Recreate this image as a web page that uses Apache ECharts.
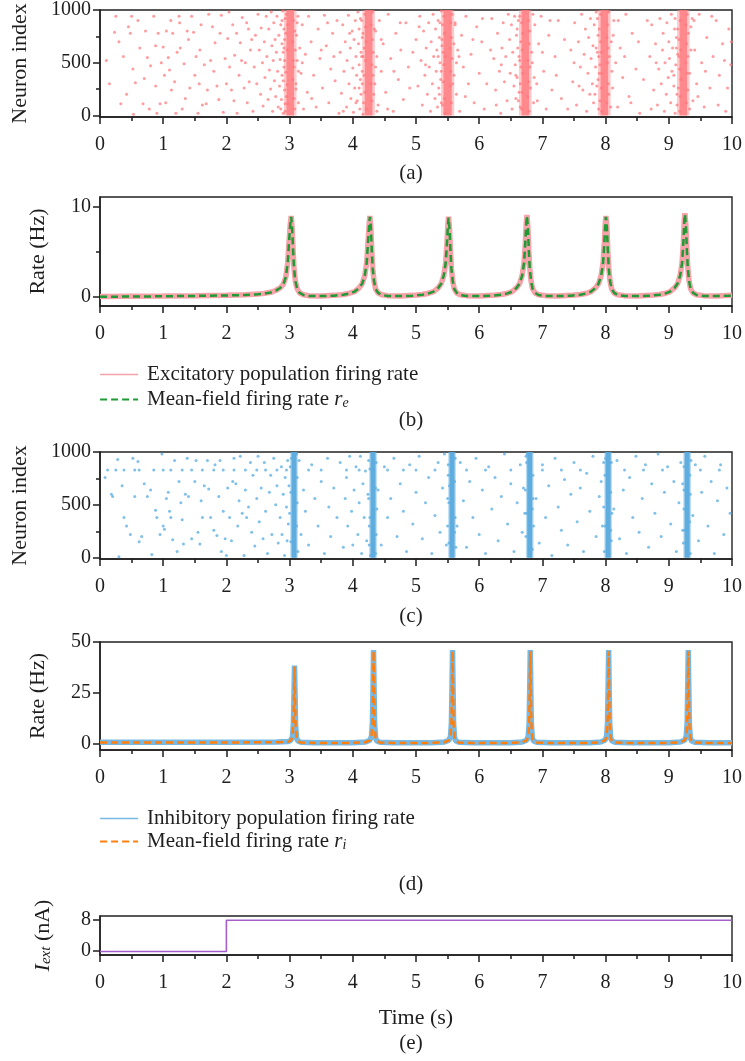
<!DOCTYPE html>
<html>
<head>
<meta charset="utf-8">
<script src="https://cdn.jsdelivr.net/npm/echarts@6/dist/echarts.min.js"></script>
<style>
html,body{margin:0;padding:0;background:#fff;}
#chart{width:745px;height:1061px;}
</style>
</head>
<body>
<div id="chart"></div>
<script>
// ---------------- DATA ----------------
// (a) excitatory raster: burst cores and scattered spikes [time s, neuron index]
const burstE_t = [3.01, 4.25, 5.50, 6.73, 7.98, 9.23];
const burstE_w = [0.12, 0.12, 0.13, 0.12, 0.12, 0.12];
const burstE_wOuter = [0.20, 0.20, 0.21, 0.20, 0.20, 0.20];
const spikesE = [
[0.25,940],[0.23,790],[0.37,560],[0.33,110],[0.45,840],[0.48,780],[0.52,440],[0.53,10],[0.56,310],[0.50,940],
[0.63,640],[0.68,110],[0.72,800],[0.75,550],[0.80,470],[0.85,940],[0.88,280],[0.90,20],[0.92,780],[0.95,110],
[1.00,650],[1.02,380],[1.05,800],[1.08,550],[1.10,430],[1.13,240],[1.15,780],[1.20,20],[1.25,940],[1.27,640],
[1.30,60],[1.33,490],[1.38,800],[1.42,260],[1.45,940],[1.48,790],[1.52,560],[1.55,20],[1.58,620],[1.62,100],
[1.65,480],[1.68,110],[1.72,960],[1.75,520],[1.78,840],[1.82,690],[1.85,280],[1.88,150],[1.92,950],[1.95,30],
[1.98,540],[2.02,730],[2.05,460],[2.08,240],[2.10,860],[2.13,570],[2.17,20],[2.20,380],[2.22,690],[2.25,930],
[2.28,260],[2.30,500],[2.33,120],[2.35,820],[2.38,620],
[0.15,300],[0.30,700],[0.42,200],[0.60,900],[0.70,350],[0.78,60],[0.97,500],[1.04,120],[1.12,900],[1.18,320],
[1.22,600],[1.35,160],[1.40,720],[1.50,380],[1.60,860],[1.70,240],[1.80,420],[1.90,780],[2.00,300],[2.04,980],
[2.12,140],[2.16,780],[2.24,520],[2.32,880],[2.36,320],[2.40,720],[0.10,520],[0.88,660],[1.26,880],[1.57,300],
[2.42,40],[2.44,460],[2.46,760],[2.48,300],[2.50,960],[2.52,620],[2.54,200],[2.55,830],[2.57,500],[2.58,90],
[2.60,700],[2.61,360],[2.63,940],[2.64,560],[2.66,150],[2.67,820],[2.68,430],[2.70,250],[2.71,980],[2.72,660],
[2.73,40],[2.74,520],[2.75,880],[2.76,330],[2.77,720],[2.78,180],[2.79,600],[2.80,940],[2.81,420],[2.82,80],
[2.83,760],[2.84,280],[2.85,530],[2.86,860],[2.87,150],[2.88,680],[2.88,380],[2.89,990],[2.90,20],[2.90,600],
[2.91,460],[2.91,820],[2.92,240],[2.92,720],[2.93,110],[2.93,920],
[3.10,300],[3.11,760],[3.12,520],[3.13,940],[3.14,120],[3.16,640],[3.18,400],[3.20,860],[3.22,60],[3.25,580],
[3.28,220],[3.30,940],[3.34,700],[3.38,380],[3.42,80],[3.45,820],[3.48,540],[3.52,260],[3.55,950],[3.58,660],
[3.62,120],[3.65,440],[3.68,780],[3.72,330],[3.75,900],[3.78,20],
[3.20,500],[3.35,160],[3.50,620],[3.60,880],[3.70,560],[3.85,40],[3.95,780],[4.05,120],
[3.80,600],[3.82,210],[3.84,860],[3.86,420],[3.88,700],[3.90,80],[3.91,520],[3.93,950],[3.94,300],[3.96,640],
[3.97,160],[3.99,800],[4.00,450],[4.01,30],[4.02,720],[4.03,260],[4.04,900],[4.05,560],[4.06,380],[4.07,140],
[4.08,980],[4.09,680],[4.10,480],[4.10,820],[4.11,60],[4.12,340],[4.13,600],[4.13,200],[4.14,900],[4.15,740],
[4.15,420],[4.16,10],[4.16,560],
[4.35,300],[4.36,800],[4.38,560],[4.40,100],[4.42,900],[4.45,420],[4.48,680],[4.52,220],[4.56,960],[4.60,540],
[4.64,40],[4.68,780],[4.72,340],[4.76,620],[4.80,150],[4.84,880],[4.88,460],
[4.45,720],[4.55,60],[4.65,420],[4.75,880],[4.90,260],[4.95,600],[5.05,840],[5.15,480],
[5.00,720],[5.03,280],[5.06,940],[5.08,520],[5.10,100],[5.12,800],[5.14,380],[5.16,640],[5.18,200],[5.20,880],
[5.21,460],[5.23,40],[5.24,700],[5.26,300],[5.27,960],[5.28,560],[5.30,160],[5.31,820],[5.32,420],[5.33,620],
[5.34,80],[5.35,900],[5.36,260],[5.37,740],[5.38,500],[5.39,340],[5.40,990],[5.40,120],[5.41,660],[5.42,860],
[5.60,380],[5.62,880],[5.64,200],[5.66,620],[5.69,40],[5.72,760],[5.75,460],[5.79,940],[5.83,300],[5.87,580],
[5.92,120],[5.96,840],[6.00,400],[6.04,700],[6.08,60],
[5.68,560],[5.78,180],[5.90,720],[6.05,920],[6.12,300],[6.18,620],[6.27,100],[6.35,480],
[6.20,920],[6.23,540],[6.26,240],[6.29,780],[6.32,420],[6.34,20],[6.36,640],[6.38,880],[6.40,320],[6.42,560],
[6.44,140],[6.46,960],[6.48,720],[6.49,400],[6.51,860],[6.52,60],[6.53,600],[6.55,280],[6.56,940],[6.57,480],
[6.58,160],[6.59,760],[6.60,360],[6.61,640],[6.62,900],[6.63,220],[6.64,520],[6.65,80],
[6.84,500],[6.86,120],[6.88,860],[6.91,300],[6.94,680],[6.98,940],[7.02,420],[7.06,60],[7.10,760],[7.15,240],
[7.20,560],[7.25,900],[7.30,160],
[6.92,140],[7.00,600],[7.12,900],[7.22,380],[7.35,720],[7.40,60],[7.50,500],[7.58,280],
[7.45,620],[7.48,320],[7.51,880],[7.54,100],[7.57,700],[7.60,460],[7.62,960],[7.64,240],[7.66,580],[7.68,820],
[7.70,40],[7.72,400],[7.73,740],[7.75,200],[7.76,920],[7.77,540],[7.79,300],[7.80,660],[7.81,120],[7.82,860],
[7.84,460],[7.85,980],[7.86,280],[7.87,600],[7.88,760],[7.89,60],[7.90,400],
[8.09,700],[8.11,260],[8.13,900],[8.16,500],[8.19,80],[8.23,640],[8.27,360],[8.32,960],[8.37,180],[8.42,780],
[8.48,440],[8.54,20],
[8.20,900],[8.30,560],[8.40,120],[8.52,700],[8.60,340],[8.66,900],[8.72,60],[8.80,500],
[8.70,560],[8.73,860],[8.76,240],[8.79,680],[8.82,100],[8.84,440],[8.86,920],[8.88,300],[8.90,620],[8.91,780],
[8.93,40],[8.94,500],[8.96,200],[8.97,880],[8.99,360],[9.00,700],[9.01,540],[9.03,120],[9.04,960],[9.05,420],
[9.06,640],[9.08,280],[9.09,820],[9.10,20],[9.11,480],[9.12,740],[9.13,200],[9.14,580],
[9.33,400],[9.35,840],[9.38,140],[9.41,620],[9.44,300],[9.48,960],[9.52,500],[9.56,80],[9.60,740],[9.65,260],
[9.70,560],[9.75,900],[9.80,380],[9.85,680],[9.90,40],[9.95,820],[9.98,480],
[9.40,900],[9.46,180],[9.58,420],[9.68,940],[9.78,100],[9.88,520],[9.93,260],[9.99,700]
];
// spikes at the ragged edges of each excitatory burst
const spikesE_burst = [
[2.86,60],[2.88,900],[2.90,330],[2.91,640],[2.92,520],[2.93,40],[2.94,780],[2.94,410],[2.95,180],[2.95,960],
[2.96,620],[2.96,290],[2.97,860],[2.97,110],[3.05,700],[3.05,340],[3.06,520],[3.06,900],[3.07,160],[3.07,460],
[3.08,800],[3.08,60],[3.09,620],[3.10,250],[3.12,880],[3.14,420],
[4.10,260],[4.12,920],[4.14,560],[4.15,300],[4.16,780],[4.17,120],[4.18,640],[4.18,380],[4.19,960],[4.19,220],
[4.20,520],[4.20,840],[4.21,60],[4.21,700],[4.29,300],[4.29,860],[4.30,480],[4.30,140],[4.31,720],[4.31,980],
[4.32,380],[4.32,600],[4.33,200],[4.34,820],[4.36,460],[4.38,40],
[5.35,560],[5.37,200],[5.38,880],[5.40,420],[5.41,720],[5.42,100],[5.43,600],[5.43,320],[5.44,940],[5.44,480],
[5.45,780],[5.45,160],[5.46,560],[5.46,20],[5.54,640],[5.54,280],[5.55,880],[5.55,420],[5.56,120],[5.56,740],
[5.57,540],[5.57,960],[5.58,300],[5.60,680],[5.62,860],[5.64,500],
[6.58,380],[6.60,820],[6.62,140],[6.63,560],[6.64,940],[6.65,300],[6.66,700],[6.66,460],[6.67,60],[6.67,880],
[6.68,220],[6.68,620],[6.69,780],[6.69,400],[6.77,520],[6.77,180],[6.78,900],[6.78,320],[6.79,680],[6.79,40],
[6.80,460],[6.80,800],[6.81,260],[6.83,600],[6.85,960],[6.87,360],
[7.83,200],[7.85,640],[7.87,920],[7.88,340],[7.89,560],[7.90,820],[7.91,140],[7.91,480],[7.92,700],[7.92,960],
[7.93,260],[7.93,600],[7.94,40],[7.94,400],[8.02,740],[8.02,120],[8.03,500],[8.03,860],[8.04,300],[8.04,640],
[8.05,980],[8.05,200],[8.06,560],[8.08,80],[8.10,420],[8.12,760],
[9.08,380],[9.10,920],[9.12,640],[9.13,100],[9.14,820],[9.15,260],[9.16,560],[9.16,720],[9.17,40],[9.17,440],
[9.18,900],[9.18,180],[9.19,620],[9.19,340],[9.27,500],[9.27,860],[9.28,120],[9.28,680],[9.29,400],[9.29,960],
[9.30,240],[9.30,560],[9.31,780],[9.33,60],[9.35,620],[9.37,920]
];

// (b) excitatory firing rates [time s, Hz]
const rateE_pop = [
[0,0.05],[0.5,0.08],[1.0,0.1],[1.5,0.14],[2.0,0.2],[2.3,0.25],[2.5,0.32],[2.6,0.4],[2.7,0.52],[2.78,0.72],
[2.85,1.0],[2.9,1.4],[2.94,2.2],[2.97,3.8],[2.99,6.0],[3.01,8.0],[3.025,9.0],[3.04,7.6],[3.055,5.2],[3.07,3.2],
[3.09,1.8],[3.12,0.9],[3.16,0.45],[3.22,0.25],[3.3,0.15],[3.5,0.12],[3.7,0.18],[3.85,0.28],[3.95,0.42],[4.03,0.6],
[4.1,1.0],[4.15,1.5],[4.19,2.4],[4.22,3.8],[4.24,6.0],[4.26,8.2],[4.27,9.0],[4.285,7.8],[4.3,5.2],[4.315,3.2],
[4.335,1.8],[4.36,0.9],[4.4,0.45],[4.46,0.25],[4.55,0.15],[4.75,0.12],[4.95,0.18],[5.1,0.28],[5.2,0.42],[5.28,0.6],
[5.35,1.0],[5.4,1.5],[5.44,2.4],[5.47,3.8],[5.49,6.0],[5.505,8.0],[5.515,8.9],[5.53,7.6],[5.545,5.2],[5.56,3.2],
[5.58,1.8],[5.605,0.9],[5.645,0.45],[5.7,0.25],[5.8,0.15],[6.0,0.12],[6.2,0.18],[6.35,0.28],[6.45,0.42],[6.52,0.6],
[6.59,1.0],[6.64,1.5],[6.68,2.4],[6.71,3.8],[6.73,6.0],[6.745,8.2],[6.755,9.1],[6.77,7.8],[6.785,5.2],[6.8,3.2],
[6.82,1.8],[6.845,0.9],[6.885,0.45],[6.94,0.25],[7.05,0.15],[7.25,0.12],[7.45,0.18],[7.6,0.28],[7.7,0.42],[7.77,0.6],
[7.84,1.0],[7.89,1.5],[7.93,2.4],[7.96,3.8],[7.98,6.0],[7.995,8.2],[8.005,9.0],[8.02,7.8],[8.035,5.2],[8.05,3.2],
[8.07,1.8],[8.095,0.9],[8.135,0.45],[8.19,0.25],[8.3,0.15],[8.5,0.12],[8.7,0.18],[8.85,0.28],[8.95,0.42],[9.02,0.6],
[9.09,1.0],[9.14,1.5],[9.18,2.4],[9.21,3.8],[9.23,6.0],[9.245,8.4],[9.255,9.3],[9.27,8.0],[9.285,5.4],[9.3,3.3],
[9.32,1.8],[9.345,0.9],[9.385,0.45],[9.44,0.25],[9.55,0.15],[9.75,0.12],[10,0.2]
];
const rateE_mf = [
[0,0.02],[0.5,0.05],[1.0,0.08],[1.5,0.12],[2.0,0.17],[2.3,0.22],[2.5,0.3],[2.6,0.38],[2.7,0.5],[2.78,0.7],
[2.85,1.0],[2.9,1.4],[2.94,2.2],[2.97,3.8],[2.99,6.0],[3.01,8.0],[3.025,8.9],[3.04,7.6],[3.055,5.2],[3.07,3.2],
[3.09,1.8],[3.12,0.9],[3.16,0.45],[3.22,0.22],[3.3,0.12],[3.5,0.1],[3.7,0.15],[3.85,0.25],[3.95,0.4],[4.03,0.6],
[4.1,1.0],[4.15,1.5],[4.19,2.4],[4.22,3.8],[4.24,6.0],[4.26,8.2],[4.27,8.9],[4.285,7.8],[4.3,5.2],[4.315,3.2],
[4.335,1.8],[4.36,0.9],[4.4,0.45],[4.46,0.22],[4.55,0.12],[4.75,0.1],[4.95,0.15],[5.1,0.25],[5.2,0.4],[5.28,0.6],
[5.35,1.0],[5.4,1.5],[5.44,2.4],[5.47,3.8],[5.49,6.0],[5.505,8.0],[5.515,8.8],[5.53,7.6],[5.545,5.2],[5.56,3.2],
[5.58,1.8],[5.605,0.9],[5.645,0.45],[5.7,0.22],[5.8,0.12],[6.0,0.1],[6.2,0.15],[6.35,0.25],[6.45,0.4],[6.52,0.6],
[6.59,1.0],[6.64,1.5],[6.68,2.4],[6.71,3.8],[6.73,6.0],[6.745,8.2],[6.755,9.0],[6.77,7.8],[6.785,5.2],[6.8,3.2],
[6.82,1.8],[6.845,0.9],[6.885,0.45],[6.94,0.22],[7.05,0.12],[7.25,0.1],[7.45,0.15],[7.6,0.25],[7.7,0.4],[7.77,0.6],
[7.84,1.0],[7.89,1.5],[7.93,2.4],[7.96,3.8],[7.98,6.0],[7.995,8.2],[8.005,8.9],[8.02,7.8],[8.035,5.2],[8.05,3.2],
[8.07,1.8],[8.095,0.9],[8.135,0.45],[8.19,0.22],[8.3,0.12],[8.5,0.1],[8.7,0.15],[8.85,0.25],[8.95,0.4],[9.02,0.6],
[9.09,1.0],[9.14,1.5],[9.18,2.4],[9.21,3.8],[9.23,6.0],[9.245,8.4],[9.255,9.2],[9.27,8.0],[9.285,5.4],[9.3,3.3],
[9.32,1.8],[9.345,0.9],[9.385,0.45],[9.44,0.22],[9.55,0.12],[9.75,0.1],[10,0.15]
];

// (c) inhibitory raster
const burstI_t = [3.07, 4.32, 5.57, 6.80, 8.04, 9.29];
const burstI_w = [0.08, 0.08, 0.08, 0.08, 0.08, 0.08];
const burstI_wOuter = [0.12, 0.12, 0.12, 0.12, 0.12, 0.12];
const spikesI = [
[0.12,830],[0.25,830],[0.38,830],[0.55,830],[0.62,830],[0.85,830],[1.00,830],[1.12,830],[1.30,830],[1.45,830],
[1.62,830],[1.80,830],[1.95,830],[2.12,830],[2.30,830],[2.48,830],[2.62,830],[2.80,830],[2.95,830],[3.30,830],
[3.50,830],[3.90,830],[4.10,830],[4.55,830],[4.80,830],[5.00,830],[5.30,830],[5.80,830],[6.10,830],[6.50,830],
[7.00,830],[7.30,830],[7.60,830],[8.30,830],[8.60,830],[8.90,830],[9.50,830],[9.80,830],
[0.08,760],[0.18,600],[0.20,580],[0.28,930],[0.30,10],[0.35,680],[0.38,380],[0.42,300],[0.48,220],[0.52,940],
[0.55,580],[0.60,910],[0.62,150],[0.66,200],[0.70,700],[0.75,580],[0.80,640],[0.82,30],[0.88,450],[0.90,380],
[0.95,220],[0.98,980],[1.00,300],[1.02,270],[1.05,560],[1.08,620],[1.10,440],[1.12,380],[1.15,170],[1.18,920],
[1.22,60],[1.25,720],[1.28,520],[1.30,360],[1.32,130],[1.35,600],[1.38,940],[1.40,580],[1.45,180],[1.50,720],
[1.52,920],[1.55,240],[1.58,130],[1.60,540],[1.62,380],[1.65,680],[1.70,920],[1.72,650],[1.75,380],[1.80,260],
[1.82,880],[1.85,210],[1.88,580],[1.90,920],[1.92,60],[1.95,440],[1.98,180],[2.00,20],[2.02,660],[2.05,380],
[2.08,160],[2.10,720],[2.12,940],[2.15,700],[2.18,300],[2.20,540],[2.22,960],[2.25,420],[2.28,20],[2.30,640],
[2.32,380],[2.35,480],[2.38,900],[2.40,240],[2.42,780],[2.45,110],[2.48,560],[2.50,960],[2.52,340],[2.55,660],
[2.58,180],[2.60,900],[2.62,440],[2.65,40],[2.68,620],[2.70,780],[2.72,220],[2.75,940],[2.78,500],[2.80,680],
[2.82,140],[2.85,380],[2.87,860],[2.88,220],[2.90,600],[2.92,20],[2.93,760],[2.95,480],[2.96,160],[2.97,920],
[2.98,320],[2.99,680],
[3.15,920],[3.18,220],[3.22,640],[3.25,440],[3.30,120],[3.35,880],[3.40,560],[3.45,300],[3.50,720],[3.55,40],
[3.60,940],[3.62,480],[3.65,200],[3.70,660],[3.75,380],[3.80,900],[3.85,100],[3.88,560],[3.90,760],[3.92,300],
[3.95,960],[3.98,440],[4.00,120],[4.02,640],[4.05,860],[4.08,220],[4.10,520],[4.12,960],[4.14,40],[4.16,700],
[4.18,380],[4.20,820],[4.22,160],[4.24,600],[4.25,920],[4.26,300],
[4.40,640],[4.45,120],[4.50,860],[4.55,380],[4.60,560],[4.65,940],[4.70,200],[4.75,700],[4.80,440],[4.85,60],
[4.90,880],[4.95,320],[5.00,620],[5.05,960],[5.10,180],[5.15,520],[5.20,760],[5.25,40],[5.30,400],[5.35,900],
[5.38,240],[5.42,660],[5.45,980],[5.48,120],[5.50,560],[5.51,780],
[5.65,300],[5.70,900],[5.75,540],[5.80,100],[5.85,720],[5.90,380],[5.95,940],[6.00,220],[6.05,640],[6.10,40],
[6.15,860],[6.20,460],[6.25,760],[6.30,160],[6.35,580],[6.40,980],[6.45,320],[6.50,700],[6.55,60],[6.60,520],
[6.65,880],[6.68,240],[6.70,660],[6.72,420],[6.74,960],
[6.90,560],[6.95,140],[7.00,880],[7.05,380],[7.10,680],[7.15,20],[7.20,940],[7.25,480],[7.30,260],[7.35,740],
[7.40,120],[7.45,600],[7.50,900],[7.55,340],[7.60,660],[7.65,60],[7.70,800],[7.75,440],[7.80,960],[7.85,200],
[7.90,580],[7.93,720],[7.95,300],[7.97,900],
[8.13,460],[8.18,920],[8.22,180],[8.28,640],[8.33,40],[8.38,760],[8.43,380],[8.48,960],[8.53,240],[8.58,560],
[8.63,880],[8.68,100],[8.73,700],[8.78,420],[8.83,980],[8.88,200],[8.93,620],[8.98,860],[9.03,320],[9.08,720],
[9.12,60],[9.16,520],[9.19,900],[9.22,260],[9.24,640],
[9.38,400],[9.42,880],[9.47,160],[9.52,620],[9.57,960],[9.62,300],[9.67,720],[9.72,40],[9.77,540],[9.82,880],
[9.87,220],[9.92,660],[9.97,420]
];
const spikesI_burst = [
[3.00,420],[3.01,860],[3.02,150],[3.02,620],[3.11,300],[3.12,760],[3.12,520],[3.13,60],[3.03,940],[3.11,980],
[4.25,560],[4.26,120],[4.27,840],[4.27,380],[4.36,660],[4.37,220],[4.37,900],[4.38,460],[4.28,20],[4.36,40],
[5.50,300],[5.51,880],[5.52,140],[5.52,520],[5.61,720],[5.62,380],[5.62,940],[5.63,100],[5.53,680],[5.61,240],
[6.73,640],[6.74,200],[6.75,900],[6.75,420],[6.84,80],[6.85,560],[6.85,780],[6.86,300],[6.76,980],[6.84,460],
[7.97,480],[7.98,60],[7.99,780],[7.99,300],[8.08,620],[8.09,160],[8.09,900],[8.10,420],[8.00,940],[8.08,260],
[9.22,700],[9.23,140],[9.24,460],[9.24,860],[9.33,340],[9.34,600],[9.34,40],[9.35,920],[9.25,260],[9.33,780]
];

// (d) inhibitory firing rates [time s, Hz]
const rateI_pop = [
[0,0.8],[1,0.8],[2,0.8],[2.8,0.9],[2.98,1.2],[3.02,1.8],[3.045,3.5],[3.06,10],[3.07,25],[3.078,38.5],
[3.086,25],[3.095,9],[3.11,3],[3.13,1.4],[3.18,0.8],[3.4,0.5],[4.0,0.6],[4.2,0.9],[4.27,1.8],[4.295,3.5],
[4.31,10],[4.32,28],[4.328,46],[4.336,28],[4.345,10],[4.36,3],[4.38,1.4],[4.43,0.8],[4.65,0.5],[5.25,0.6],
[5.45,0.9],[5.52,1.8],[5.545,3.5],[5.56,10],[5.57,28],[5.578,46],[5.586,28],[5.595,10],[5.61,3],[5.63,1.4],
[5.68,0.8],[5.9,0.5],[6.5,0.6],[6.68,0.9],[6.75,1.8],[6.775,3.5],[6.79,10],[6.80,28],[6.808,46],[6.816,28],
[6.825,10],[6.84,3],[6.86,1.4],[6.91,0.8],[7.13,0.5],[7.75,0.6],[7.92,0.9],[7.99,1.8],[8.015,3.5],[8.03,10],
[8.04,28],[8.048,46],[8.056,28],[8.065,10],[8.08,3],[8.1,1.4],[8.15,0.8],[8.37,0.5],[9.0,0.6],[9.18,0.9],
[9.25,1.8],[9.275,3.5],[9.29,10],[9.30,28],[9.308,46],[9.316,28],[9.325,10],[9.34,3],[9.36,1.4],[9.41,0.8],
[9.63,0.5],[10,0.5]
];
const rateI_mf = [
[0,0.7],[1,0.7],[2,0.7],[2.8,0.8],[2.98,1.1],[3.02,1.7],[3.045,3.4],[3.06,10],[3.07,25],[3.078,38],
[3.086,25],[3.095,9],[3.11,3],[3.13,1.3],[3.18,0.7],[3.4,0.4],[4.0,0.5],[4.2,0.8],[4.27,1.7],[4.295,3.4],
[4.31,10],[4.32,28],[4.328,45.5],[4.336,28],[4.345,10],[4.36,3],[4.38,1.3],[4.43,0.7],[4.65,0.4],[5.25,0.5],
[5.45,0.8],[5.52,1.7],[5.545,3.4],[5.56,10],[5.57,28],[5.578,45.5],[5.586,28],[5.595,10],[5.61,3],[5.63,1.3],
[5.68,0.7],[5.9,0.4],[6.5,0.5],[6.68,0.8],[6.75,1.7],[6.775,3.4],[6.79,10],[6.80,28],[6.808,45.5],[6.816,28],
[6.825,10],[6.84,3],[6.86,1.3],[6.91,0.7],[7.13,0.4],[7.75,0.5],[7.92,0.8],[7.99,1.7],[8.015,3.4],[8.03,10],
[8.04,28],[8.048,45.5],[8.056,28],[8.065,10],[8.08,3],[8.1,1.3],[8.15,0.7],[8.37,0.4],[9.0,0.5],[9.18,0.8],
[9.25,1.7],[9.275,3.4],[9.29,10],[9.30,28],[9.308,45.5],[9.316,28],[9.325,10],[9.34,3],[9.36,1.3],[9.41,0.7],
[9.63,0.4],[10,0.4]
];

// (e) external current [time s, nA]
const iExt = [[0,-0.3],[2,-0.3],[2,7.8],[10,7.8]];

// tick values
const yTicksA = [0,500,1000], yMinorA = [250,750];
const yTicksB = [0,10], yMinorB = [5];
const yTicksC = [0,500,1000], yMinorC = [250,750];
const yTicksD = [0,25,50];
const yTicksE = [0,8];

// ---------------- CHART ----------------
const F = '"Liberation Serif","DejaVu Serif",serif';
const INK = '#1e1e1e';
const chart = echarts.init(document.getElementById('chart'), null, {renderer:'canvas'});

const grids = [
  {left:100, width:633, top:9,   height:108},
  {left:100, width:633, top:197, height:109},
  {left:100, width:633, top:452, height:107},
  {left:100, width:633, top:642, height:108},
  {left:100, width:633, top:916, height:39}
].map(g => Object.assign(g, {show:true, borderColor:'#222', borderWidth:1.4, backgroundColor:'transparent', containLabel:false}));

const numFmt = v => String(v);

function xAx(i, extra) {
  return Object.assign({
    type:'value', gridIndex:i, min:0, max:10, interval:1,
    axisLine:{show:true, onZero:false, lineStyle:{color:INK, width:1.5}},
    axisTick:{show:true, length:7, lineStyle:{color:INK, width:1.5}},
    minorTick:{show:true, splitNumber:2, length:4, lineStyle:{color:INK, width:1.5}},
    splitLine:{show:false}, minorSplitLine:{show:false},
    axisLabel:{fontFamily:F, fontSize:20, color:INK, margin:18, formatter:numFmt}
  }, extra || {});
}
function yAx(i, min, max, ticks, name, gap, extra) {
  return Object.assign({
    type:'value', gridIndex:i, min:min, max:max, position:'left',
    axisLine:{show:true, onZero:false, lineStyle:{color:INK, width:1.5}},
    axisTick:{show:true, length:7, lineStyle:{color:INK, width:1.5}, customValues:ticks},
    splitLine:{show:false},
    axisLabel:{fontFamily:F, fontSize:20, color:INK, margin:9, customValues:ticks, formatter:numFmt},
    name:name, nameLocation:'middle', nameGap:gap, nameRotate:90,
    nameTextStyle:{fontFamily:F, fontSize:22, color:INK}
  }, extra || {});
}
function yMinor(i, min, max, ticks) {
  return {
    type:'value', gridIndex:i, min:min, max:max, position:'left',
    axisLine:{show:false}, splitLine:{show:false},
    axisTick:{show:true, length:4, lineStyle:{color:INK, width:1.5}, customValues:ticks},
    axisLabel:{show:false, customValues:ticks}
  };
}

const xAxes = [xAx(0), xAx(1), xAx(2), xAx(3),
  xAx(4, {name:'Time (s)', nameLocation:'middle', nameGap:52, nameTextStyle:{fontFamily:F, fontSize:22, color:INK}})];
const yAxes = [
  yAx(0, -15, 1000, yTicksA, 'Neuron index', 69),
  yMinor(0, -15, 1000, yMinorA),
  yAx(1, -1, 11.1, yTicksB, 'Rate (Hz)', 51),
  yMinor(1, -1, 11.1, yMinorB),
  yAx(2, -12, 1000, yTicksC, 'Neuron index', 69),
  yMinor(2, -12, 1000, yMinorC),
  yAx(3, -3, 50, yTicksD, 'Rate (Hz)', 51),
  yAx(4, -1.2, 8.9, yTicksE, '{it|I}{sub|ext} (nA)', 46, {
    nameTextStyle:{fontFamily:F, fontSize:22, color:INK, rich:{
      it:{fontFamily:F, fontSize:22, fontStyle:'italic', color:INK, lineHeight:22},
      sub:{fontFamily:F, fontSize:15, fontStyle:'italic', color:INK, lineHeight:6, verticalAlign:'bottom'}
    }}
  })
];

function bandRender(params, api) {
  const c = api.value(0), w = api.value(1), lo = api.value(2), hi = api.value(3);
  const p0 = api.coord([c - w / 2, hi]);
  const p1 = api.coord([c + w / 2, lo]);
  return {type:'rect', shape:{x:p0[0], y:p0[1], width:p1[0]-p0[0], height:p1[1]-p0[1]}, style:api.style()};
}
const bandsE = burstE_t.map((t, i) => [t, burstE_w[i], 0, 1000]);
const bandsEOuter = burstE_t.map((t, i) => [t, burstE_wOuter[i], 0, 1000]);
const bandsI = burstI_t.map((t, i) => [t, burstI_w[i], 0, 1000]);
const bandsIOuter = burstI_t.map((t, i) => [t, burstI_wOuter[i], 0, 1000]);

const nameE1 = 'Excitatory population firing rate', nameE2 = 'Mean-field firing rate r_e';
const nameI1 = 'Inhibitory population firing rate', nameI2 = 'Mean-field firing rate r_i';

const dotE = {color:'#ff767c', opacity:0.72};
const dotI = {color:'#5caee3', opacity:0.78};

const series = [
  {type:'scatter', xAxisIndex:0, yAxisIndex:0, data:spikesE, symbolSize:3, silent:true, itemStyle:dotE},
  {type:'custom', xAxisIndex:0, yAxisIndex:0, renderItem:bandRender, data:bandsEOuter, silent:true,
   itemStyle:{color:'#ff8a8e', opacity:0.45}, encode:{x:0, y:2}},
  {type:'custom', xAxisIndex:0, yAxisIndex:0, renderItem:bandRender, data:bandsE, silent:true,
   itemStyle:{color:'#ff787d', opacity:0.8}, encode:{x:0, y:2}},
  {type:'scatter', xAxisIndex:0, yAxisIndex:0, data:spikesE_burst, symbolSize:3, silent:true, itemStyle:dotE},

  {type:'line', name:nameE1, xAxisIndex:1, yAxisIndex:2, data:rateE_pop, showSymbol:false, symbol:'none', silent:true,
   lineStyle:{color:'#f5a2a8', width:5.5}, itemStyle:{color:'#f5a2a8'}},
  {type:'line', name:nameE2, xAxisIndex:1, yAxisIndex:2, data:rateE_mf, showSymbol:false, symbol:'none', silent:true,
   lineStyle:{color:'#1f9a35', width:2.5, type:[7,4]}, itemStyle:{color:'#1f9a35'}},

  {type:'scatter', xAxisIndex:2, yAxisIndex:4, data:spikesI, symbolSize:3, silent:true, itemStyle:dotI},
  {type:'custom', xAxisIndex:2, yAxisIndex:4, renderItem:bandRender, data:bandsIOuter, silent:true,
   itemStyle:{color:'#6db6e6', opacity:0.5}, encode:{x:0, y:2}},
  {type:'custom', xAxisIndex:2, yAxisIndex:4, renderItem:bandRender, data:bandsI, silent:true,
   itemStyle:{color:'#55a6dc', opacity:0.9}, encode:{x:0, y:2}},
  {type:'scatter', xAxisIndex:2, yAxisIndex:4, data:spikesI_burst, symbolSize:3, silent:true, itemStyle:dotI},

  {type:'line', name:nameI1, xAxisIndex:3, yAxisIndex:6, data:rateI_pop, showSymbol:false, symbol:'none', silent:true,
   lineStyle:{color:'#78b9e4', width:5.5}, itemStyle:{color:'#78b9e4'}},
  {type:'line', name:nameI2, xAxisIndex:3, yAxisIndex:6, data:rateI_mf, showSymbol:false, symbol:'none', silent:true,
   lineStyle:{color:'#ff7f0e', width:2.5, type:[7,4]}, itemStyle:{color:'#ff7f0e'}},

  {type:'line', xAxisIndex:4, yAxisIndex:7, data:iExt, showSymbol:false, symbol:'none', silent:true,
   lineStyle:{color:'#a45ec9', width:1.6}}
];

const richLegend = {
  it:{fontFamily:F, fontSize:21, fontStyle:'italic', color:INK, lineHeight:21},
  sub:{fontFamily:F, fontSize:14, fontStyle:'italic', color:INK, lineHeight:6, verticalAlign:'bottom'}
};
function legendFmt(name) {
  if (name === nameE2) return 'Mean-field firing rate {it|r}{sub|e}';
  if (name === nameI2) return 'Mean-field firing rate {it|r}{sub|i}';
  return name;
}
function mkLegend(top, gap, names) {
  return {
    orient:'vertical', left:94, top:top, itemWidth:38, itemHeight:14, itemGap:gap,
    selectedMode:false,
    itemStyle:{opacity:0, borderWidth:0},
    data:[{name:names[0], lineStyle:{width:1.5}}, {name:names[1], lineStyle:{width:2.2}}],
    textStyle:{fontFamily:F, fontSize:21, color:INK, lineHeight:21, padding:[0,0,0,4], rich:richLegend},
    formatter:legendFmt
  };
}

function lbl(txt, x, y) {
  return {type:'text', x:x, y:y, silent:true,
    style:{text:txt, fontFamily:F, fontSize:21, fill:INK, align:'center', verticalAlign:'middle'}};
}

chart.setOption({
  animation:false,
  backgroundColor:'#fff',
  grid:grids,
  xAxis:xAxes,
  yAxis:yAxes,
  legend:[mkLegend(359, 4, [nameE1, nameE2]), mkLegend(803, 2, [nameI1, nameI2])],
  series:series,
  graphic:[lbl('(a)', 411, 173), lbl('(b)', 411, 420), lbl('(c)', 411, 616), lbl('(d)', 411, 884), lbl('(e)', 411, 1043)]
});
</script>
</body>
</html>
